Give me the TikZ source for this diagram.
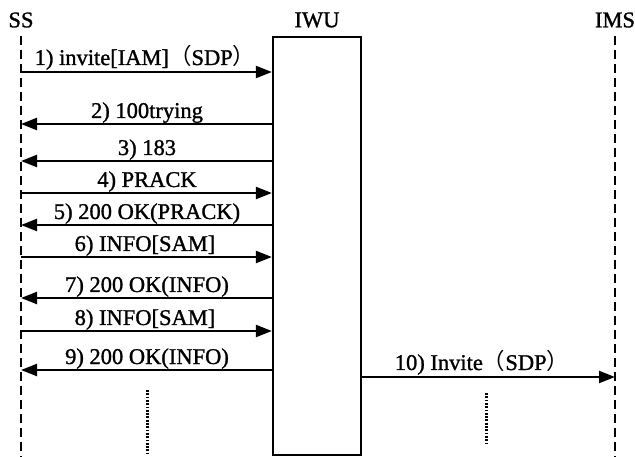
\documentclass[tikz,border=0pt]{standalone}
\usepackage{fontspec}
\setmainfont{Liberation Serif}[FakeBold=1.2]
\newfontfamily\cjk{Noto Sans CJK SC}
\usetikzlibrary{arrows.meta}
\newcommand{\lp}{{\cjk （}}
\newcommand{\rp}{{\cjk ）}}
\begin{document}
\begin{tikzpicture}[x=1pt,y=-1pt,
  font=\fontsize{22.5}{24}\selectfont,
  lifeline/.style={line width=2.2pt,dash pattern=on 9pt off 5pt},
  msg/.style={line width=2.2pt,-{Triangle[length=16pt,width=12pt]}},
  lbl/.style={anchor=base,inner sep=0pt},
  head/.style={inner sep=0pt},
  dotline/.style={line width=3pt,dash pattern=on 1.8pt off 1.5pt}]
\useasboundingbox (0,0) rectangle (635,457);
% heads
\node[head] (ss) at (21,20) {SS};
\node[head] (iwu) at (317,20) {IWU};
\node[head] (ims) at (615,20) {IMS};
% IWU box
\node[draw,line width=2.2pt,minimum width=88pt,minimum height=418pt,inner sep=0pt] (box) at (317,246) {};
% lifelines
\coordinate (sstop) at (21,36);
\coordinate (ssbot) at (21,457);
\coordinate (imstop) at (615,36);
\coordinate (imsbot) at (615,457);
\draw[lifeline] (sstop) -- (ssbot);
\draw[lifeline] (imstop) -- (imsbot);
% message anchor coordinates on SS lifeline
\coordinate (m1) at (21,72);
\coordinate (m2) at (21,124);
\coordinate (m3) at (21,161);
\coordinate (m4) at (21,193);
\coordinate (m5) at (21,225);
\coordinate (m6) at (21,257);
\coordinate (m7) at (21,298);
\coordinate (m8) at (21,331);
\coordinate (m9) at (21,370);
\coordinate (m10) at (615,377);
% messages
\draw[msg] (m1) -- (m1 -| box.west);
\draw[msg] (m2 -| box.west) -- (m2);
\draw[msg] (m3 -| box.west) -- (m3);
\draw[msg] (m4) -- (m4 -| box.west);
\draw[msg] (m5 -| box.west) -- (m5);
\draw[msg] (m6) -- (m6 -| box.west);
\draw[msg] (m7 -| box.west) -- (m7);
\draw[msg] (m8) -- (m8 -| box.west);
\draw[msg] (m9 -| box.west) -- (m9);
\draw[msg] (m10 -| box.east) -- (m10);
% labels
\node[lbl] (l1) at (145,65) {1) invite[IAM]\lp SDP\rp};
\node[lbl] (l2) at (147,118) {2) 100trying};
\node[lbl] (l3) at (147,155) {3) 183};
\node[lbl] (l4) at (147,187) {4) PRACK};
\node[lbl] (l5) at (147,219) {5) 200 OK(PRACK)};
\node[lbl] (l6) at (145,251) {6) INFO[SAM]};
\node[lbl] (l7) at (147,292) {7) 200 OK(INFO)};
\node[lbl] (l8) at (145,325) {8) INFO[SAM]};
\node[lbl] (l9) at (147,364) {9) 200 OK(INFO)};
\node[lbl] (l10) at (482,370) {10) Invite\lp SDP\rp};
% continuation dots
\coordinate (d1a) at (147,390);
\coordinate (d1b) at (147,453);
\coordinate (d2a) at (486,393);
\coordinate (d2b) at (486,444);
\draw[dotline] (d1a) -- (d1b);
\draw[dotline] (d2a) -- (d2b);
\end{tikzpicture}
\end{document}
